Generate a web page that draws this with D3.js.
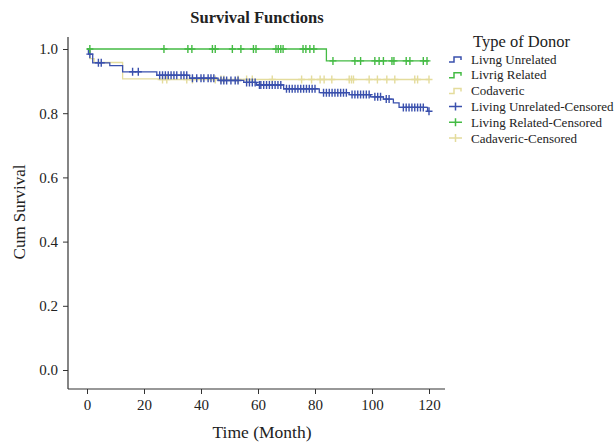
<!DOCTYPE html>
<html>
<head>
<meta charset="utf-8">
<script src="https://cdn.jsdelivr.net/npm/d3@7"></script>
<style>
  body { margin: 0; background: #fff; }
  svg text { font-family: "Liberation Serif", serif; fill: #222; }
</style>
</head>
<body>
<svg id="chart" width="614" height="443"></svg>
<script>
// step curves: [time, cum survival]
const unrelatedSteps = [[0,1.0],[0.5,0.984],[2,0.957],[8,0.948],[12.5,0.929],[24.5,0.918],[36,0.909],[46,0.902],[55,0.896],[59.5,0.888],[69,0.876],[81.5,0.864],[92,0.858],[99.5,0.851],[104,0.844],[107.5,0.832],[109.5,0.818],[119.5,0.806],[120,0.806]]
const relatedSteps = [[0,1.0],[84,0.963],[120,0.963]]
const cadavericSteps = [[0,1.0],[1,0.97],[2.5,0.958],[12.5,0.907],[25,0.905],[120,0.905]]

// censored times
const unrelatedCensored = [1,4,5,16,18,25.5,26.5,27.5,28.5,29.5,30.5,31.5,33,34,35,37,38.5,40,41,42.5,43.5,44.5,47,48,49,50.5,52,53,56,57,58,59,60.5,61,62,63,64,65,66,67,68,70,71,72,73,74,75,76,77,78,79,80,83,84,85,86,87,88,89,90,91,93,94,95,96,97,98,99,101,102,103,105,106,111,112,113,114,115,116,117,118,120]
const relatedCensored = [1,27,35.4,36.8,44,45,51,54,58.4,59.3,66.3,67.1,68,68.8,75.8,76.8,78.2,79.6,86.3,94,96,101,102.5,104,107,107.7,112,113.3,118,119.3]
const cadavericCensored = [26.5,28,35,37,45,47,48,53,56,58,65,75.3,78.8,81.8,83.2,85.9,92,92.8,93.5,99,101.9,105.2,108,115,116,120]

const xTicks = [0,20,40,60,80,100,120]
const yTicks = [0,0.2,0.4,0.6,0.8,1.0]

const legendLabels = ['Livng Unrelated','Livrig Related','Codaveric','Living Unrelated-Censored','Living Related-Censored','Cadaveric-Censored']

const BLUE = '#3a50ad', GREEN = '#44bb44', YELLOW = '#e4dc9c'

const svg = d3.select('#chart')
const x = d3.scaleLinear().domain([0, 120]).range([87, 429])
const y = d3.scaleLinear().domain([0, 1]).range([370, 49])

// frame: left and bottom axis lines
const frameL = 68, frameR = 445, frameT = 37, frameB = 389
svg.append('line').attr('x1', frameL).attr('x2', frameL).attr('y1', frameT).attr('y2', frameB)
  .attr('stroke', '#333').attr('stroke-width', 1.2)
svg.append('line').attr('x1', frameL).attr('x2', frameR).attr('y1', frameB).attr('y2', frameB)
  .attr('stroke', '#333').attr('stroke-width', 1.2)

// x axis
const xAxis = svg.append('g').attr('transform', `translate(0,${frameB})`)
  .call(d3.axisBottom(x).tickValues(xTicks).tickSize(5).tickPadding(5).tickFormat(d3.format('d')))
xAxis.select('.domain').remove()
xAxis.selectAll('line').attr('stroke', '#333')
xAxis.selectAll('text').attr('font-size', 15).attr('font-family', '"Liberation Serif", serif').attr('fill', '#222')

// y axis
const yAxis = svg.append('g').attr('transform', `translate(${frameL},0)`)
  .call(d3.axisLeft(y).tickValues(yTicks).tickSize(5).tickPadding(5).tickFormat(d3.format('.1f')))
yAxis.select('.domain').remove()
yAxis.selectAll('line').attr('stroke', '#333')
yAxis.selectAll('text').attr('font-size', 15).attr('font-family', '"Liberation Serif", serif').attr('fill', '#222')

// titles
svg.append('text').attr('x', 257).attr('y', 23).attr('text-anchor', 'middle')
  .attr('font-size', 16.5).attr('font-weight', 'bold').text('Survival Functions')
svg.append('text').attr('x', 262).attr('y', 438).attr('text-anchor', 'middle')
  .attr('font-size', 17.5).text('Time (Month)')
svg.append('text').attr('transform', 'translate(25,212) rotate(-90)').attr('text-anchor', 'middle')
  .attr('font-size', 17).text('Cum Survival')

// survival step lines
const line = d3.line().x(d => x(d[0])).y(d => y(d[1])).curve(d3.curveStepAfter)
const curves = [
  { steps: cadavericSteps, censored: cadavericCensored, color: YELLOW },
  { steps: unrelatedSteps, censored: unrelatedCensored, color: BLUE },
  { steps: relatedSteps, censored: relatedCensored, color: GREEN },
]

// value of a step curve at time t
function stepAt(steps, t) {
  let v = steps[0][1]
  for (const s of steps) if (s[0] <= t) v = s[1]
  return v
}

curves.forEach(c => {
  svg.append('path').datum(c.steps).attr('d', line)
    .attr('fill', 'none').attr('stroke', c.color).attr('stroke-width', 1.3)
  const g = svg.append('g').attr('stroke', c.color).attr('stroke-width', 1.4)
  g.selectAll('path').data(c.censored).join('path')
    .attr('d', t => {
      const px = x(t), py = y(stepAt(c.steps, t))
      return `M${px - 3.5},${py}H${px + 3.5}M${px},${py - 4}V${py + 4}`
    })
})

// legend
const legend = svg.append('g').attr('transform', 'translate(449,0)')
legend.append('text').attr('x', 24).attr('y', 47).attr('font-size', 16.5).text('Type of Donor')
const legendColors = [BLUE, GREEN, YELLOW, BLUE, GREEN, YELLOW]
legendLabels.forEach((label, i) => {
  const cy = 59 + i * 15.8
  const row = legend.append('g').attr('transform', `translate(0,${cy})`)
  if (i < 3) {
    row.append('path').attr('d', 'M0,3H5V-2H12V1').attr('fill', 'none')
      .attr('stroke', legendColors[i]).attr('stroke-width', 1.5)
  } else {
    row.append('path').attr('d', 'M0,0H13M6.5,-4V4').attr('fill', 'none')
      .attr('stroke', legendColors[i]).attr('stroke-width', 1.5)
  }
  row.append('text').attr('x', 22).attr('y', 4.5).attr('font-size', 13).text(label)
})
</script>
</body>
</html>
